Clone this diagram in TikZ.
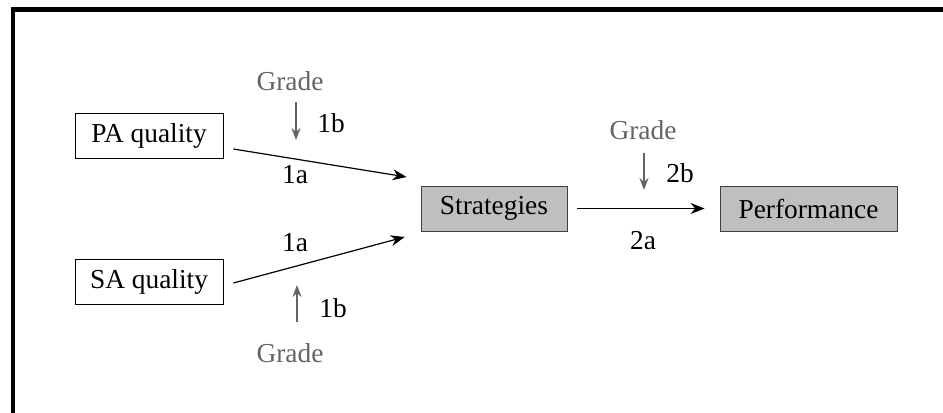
\documentclass[tikz,border=0pt]{standalone}
\usepackage{fontspec}
\setmainfont{Liberation Serif}
\usetikzlibrary{arrows.meta,calc}
\definecolor{gradegray}{RGB}{100,100,100}
\definecolor{boxfill}{RGB}{191,191,191}
\definecolor{boxline}{RGB}{64,64,64}
\tikzset{
  lbl/.style={inner sep=0pt, font=\fontsize{27.5}{32}\selectfont},
  grd/.style={lbl, text=gradegray},
  wbox/.style={draw=black, line width=0.8bp, fill=white, inner sep=0pt, minimum height=45bp, font=\fontsize{27.5}{32}\selectfont},
  gbox/.style={wbox, draw=boxline, fill=boxfill},
  mainarrow/.style={line width=1.2bp, -{Stealth[length=14bp,width=11bp]}},
  gradearrow/.style={draw=gradegray, line width=1.7bp, -{Stealth[length=12bp,width=9bp]}}
}
\begin{document}
\begin{tikzpicture}[x=1bp,y=-1bp]
\useasboundingbox (0,0) rectangle (943,412);
\draw[line width=4.5bp] (13,414) -- (13,9.5) -- (945,9.5);

\node[wbox, minimum width=148bp] (pa) at (149,135.5) {PA quality};
\node[wbox, minimum width=148bp] (sa) at (149,282) {SA quality};
\node[gbox, minimum width=146bp] (st) at (494,208.5) {Strategies};
\node[gbox, minimum width=177bp] (pf) at (808.5,208.5) {Performance};

\draw[mainarrow] ($(pa.east)+(10,13.5)$) -- ($(st.west)+(-14,-31.5)$);
\draw[mainarrow] ($(sa.east)+(10,1)$) -- ($(st.west)+(-16,28.5)$);
\draw[mainarrow] ($(st.east)+(10,0)$) -- ($(pf.west)+(-15,0)$);

\node[grd] (g1) at (290,81) {Grade};
\node[grd] (g2) at (290,353) {Grade};
\node[grd] (g3) at (643,130) {Grade};

\coordinate (a1s) at (296,102);
\coordinate (a1e) at (296,140);
\coordinate (a2s) at (297,322);
\coordinate (a2e) at (297,285);
\coordinate (a3s) at (644,153);
\coordinate (a3e) at (644,190);
\draw[gradearrow] (a1s) -- (a1e);
\draw[gradearrow] (a2s) -- (a2e);
\draw[gradearrow] (a3s) -- (a3e);

\node[lbl] (l1b) at (331,123) {1b};
\node[lbl] (l1a) at (295,175) {1a};
\node[lbl] (l1a2) at (295,243) {1a};
\node[lbl] (l1b2) at (333,308) {1b};
\node[lbl] (l2b) at (680,173) {2b};
\node[lbl] (l2a) at (643,241) {2a};
\end{tikzpicture}
\end{document}
